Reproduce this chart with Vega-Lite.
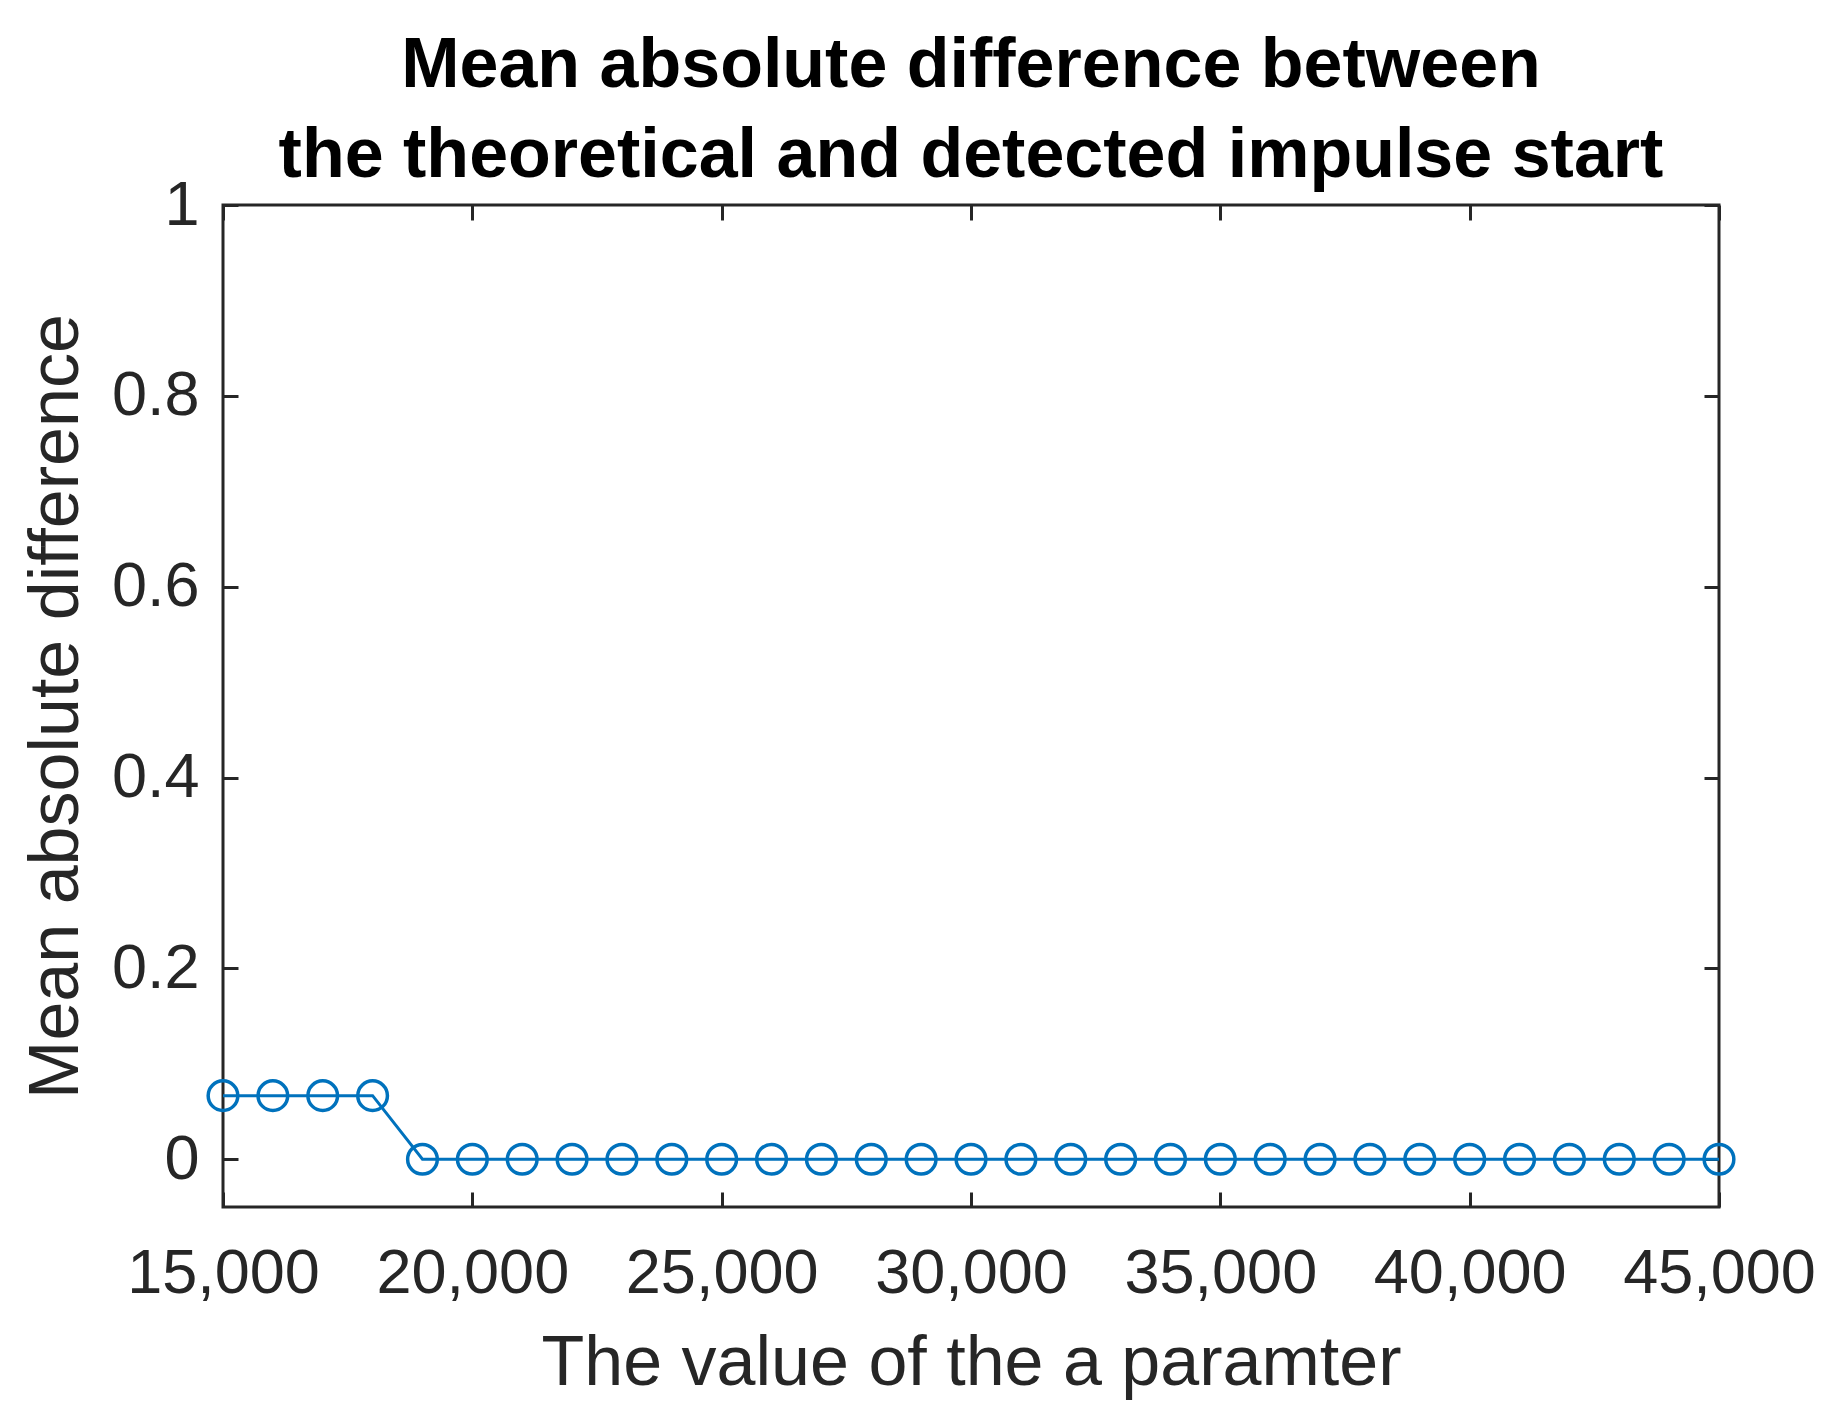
{
  "$schema": "https://vega.github.io/schema/vega-lite/v6.json",
  "width": 1496,
  "height": 1002,
  "autosize": {"type": "none"},
  "padding": {"left": 223, "top": 205, "right": 114, "bottom": 205},
  "background": "white",
  "title": {
    "text": ["Mean absolute difference between", "the theoretical and detected impulse start"],
    "font": "Liberation Sans",
    "fontSize": 70,
    "fontWeight": "bold",
    "color": "#000000",
    "lineHeight": 90,
    "anchor": "middle",
    "frame": "group",
    "offset": -18
  },
  "config": {
    "view": {"stroke": "#262626", "strokeWidth": 3},
    "axis": {
      "domain": false,
      "grid": false,
      "labelFont": "Liberation Sans",
      "labelFontSize": 63,
      "labelColor": "#262626",
      "labelLimit": 500,
      "labelOverlap": false,
      "labelFlush": false,
      "titleFont": "Liberation Sans",
      "titleFontSize": 70,
      "titleFontWeight": "normal",
      "titleColor": "#262626",
      "tickColor": "#262626",
      "tickWidth": 3,
      "tickSize": -15
    }
  },
  "data": {
    "values": [
      {"a": 15000, "mad": 0.0667},
      {"a": 16000, "mad": 0.0667},
      {"a": 17000, "mad": 0.0667},
      {"a": 18000, "mad": 0.0667},
      {"a": 19000, "mad": 0},
      {"a": 20000, "mad": 0},
      {"a": 21000, "mad": 0},
      {"a": 22000, "mad": 0},
      {"a": 23000, "mad": 0},
      {"a": 24000, "mad": 0},
      {"a": 25000, "mad": 0},
      {"a": 26000, "mad": 0},
      {"a": 27000, "mad": 0},
      {"a": 28000, "mad": 0},
      {"a": 29000, "mad": 0},
      {"a": 30000, "mad": 0},
      {"a": 31000, "mad": 0},
      {"a": 32000, "mad": 0},
      {"a": 33000, "mad": 0},
      {"a": 34000, "mad": 0},
      {"a": 35000, "mad": 0},
      {"a": 36000, "mad": 0},
      {"a": 37000, "mad": 0},
      {"a": 38000, "mad": 0},
      {"a": 39000, "mad": 0},
      {"a": 40000, "mad": 0},
      {"a": 41000, "mad": 0},
      {"a": 42000, "mad": 0},
      {"a": 43000, "mad": 0},
      {"a": 44000, "mad": 0},
      {"a": 45000, "mad": 0}
    ]
  },
  "layer": [
    {
      "mark": {"type": "line", "color": "#0072BD", "strokeWidth": 3, "clip": false},
      "encoding": {
        "x": {
          "field": "a", "type": "quantitative",
          "scale": {"domain": [15000, 45000], "nice": false, "zero": false},
          "axis": {
            "orient": "bottom",
            "values": [15000, 20000, 25000, 30000, 35000, 40000, 45000],
            "labelExpr": "format(datum.value, ',')",
            "labelPadding": 50,
            "title": "The value of the a paramter",
            "titlePadding": 24
          }
        },
        "y": {
          "field": "mad", "type": "quantitative",
          "scale": {"domain": [-0.05, 1], "nice": false, "zero": false},
          "axis": {
            "orient": "left",
            "values": [0, 0.2, 0.4, 0.6, 0.8, 1],
            "labelExpr": "format(datum.value, '~g')",
            "labelPadding": 39,
            "title": "Mean absolute difference",
            "titlePadding": 19
          }
        }
      }
    },
    {
      "mark": {"type": "point", "shape": "circle", "filled": false, "color": "#0072BD", "size": 880, "strokeWidth": 3.5, "opacity": 1, "clip": false},
      "encoding": {
        "x": {
          "field": "a", "type": "quantitative",
          "axis": {
            "orient": "top",
            "values": [15000, 20000, 25000, 30000, 35000, 40000, 45000],
            "labels": false,
            "title": null
          }
        },
        "y": {
          "field": "mad", "type": "quantitative",
          "axis": {
            "orient": "right",
            "values": [0, 0.2, 0.4, 0.6, 0.8, 1],
            "labels": false,
            "title": null
          }
        }
      }
    }
  ],
  "resolve": {"axis": {"x": "independent", "y": "independent"}}
}
